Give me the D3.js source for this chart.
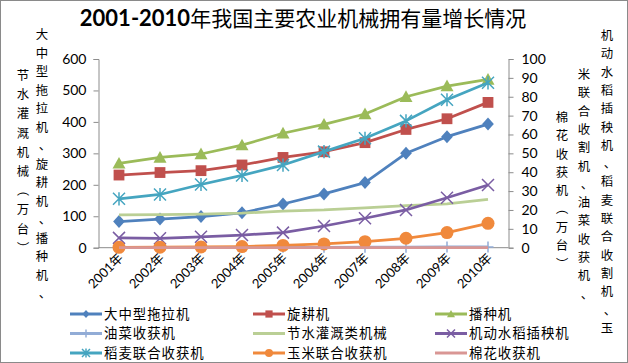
<!DOCTYPE html>
<html>
<head>
<meta charset="utf-8">
<script src="https://cdn.jsdelivr.net/npm/d3@7"></script>
<style>
  body { margin: 0; background: #fff; }
  svg { display: block; }
  text { font-family: "Noto Sans CJK SC", sans-serif; fill: #000; }
  .num { font-family: Lato, "Noto Sans CJK SC", sans-serif; }
</style>
</head>
<body>
<svg id="chart" width="628" height="363"></svg>
<script>
// years on the x axis
var years = ['2001年','2002年','2003年','2004年','2005年','2006年','2007年','2008年','2009年','2010年'];

// left axis series (万台)
var tractor    = [83, 91, 99, 111, 139, 171, 207, 300, 353, 393];
var rotary     = [231, 239, 245, 263, 287, 305, 334, 376, 410, 462];
var seeder     = [268, 287, 298, 326, 364, 392, 425, 480, 514, 535];
var irrigation = [104, 105, 107, 110, 116, 120, 127, 134, 139, 154];

// right axis series (万台)
var rapeseed     = [0.1, 0.1, 0.1, 0.1, 0.2, 0.2, 0.3, 0.3, 0.4, 0.4];
var transplanter = [5.2, 5.0, 5.8, 6.7, 8.0, 11.5, 15.6, 20.0, 26.5, 33.2];
var combine      = [25.9, 28.2, 33.5, 38.3, 43.8, 50.9, 58.0, 67.2, 78.4, 87.4];
var corn         = [0.2, 0.3, 0.4, 0.6, 1.2, 2.0, 3.2, 5.0, 8.0, 12.9];
var cotton       = [0.01, 0.01, 0.01, 0.01, 0.01, 0.02, 0.02, 0.03, 0.03, 0.05];

var leftTicks  = [0, 100, 200, 300, 400, 500, 600];
var rightTicks = [0, 10, 20, 30, 40, 50, 60, 70, 80, 90, 100];

var title = '2001-2010年我国主要农业机械拥有量增长情况';

// series in drawing order (primary axis first, then secondary)
var series = [
    {name: '大中型拖拉机',   values: tractor,      axis: 'L', color: '#4F81BD', marker: 'diamond'},
    {name: '旋耕机',         values: rotary,       axis: 'L', color: '#C0504D', marker: 'square'},
    {name: '播种机',         values: seeder,       axis: 'L', color: '#9BBB59', marker: 'triangle'},
    {name: '节水灌溉类机械', values: irrigation,   axis: 'L', color: '#BACF95', marker: 'none'},
    {name: '油菜收获机',     values: rapeseed,     axis: 'R', color: '#92ACD6', marker: 'plus'},
    {name: '机动水稻插秧机', values: transplanter, axis: 'R', color: '#7A5DA3', marker: 'cross'},
    {name: '稻麦联合收获机', values: combine,      axis: 'R', color: '#45A5C0', marker: 'star'},
    {name: '玉米联合收获机', values: corn,         axis: 'R', color: '#F0893C', marker: 'circle'},
    {name: '棉花收获机',     values: cotton,       axis: 'R', color: '#D99694', marker: 'none'}
];
var legendOrder = ['大中型拖拉机','旋耕机','播种机','油菜收获机','节水灌溉类机械','机动水稻插秧机','稻麦联合收获机','玉米联合收获机','棉花收获机'];

var svg = d3.select('#chart');
var plot = {left: 98.5, right: 508.5, top: 59, bottom: 247.7};
var axisColor = '#8C8C8C';

// frame
svg.append('rect')
    .attr('x', 0.5).attr('y', 0.5)
    .attr('width', 627).attr('height', 362)
    .attr('fill', 'none').attr('stroke', '#8a8a8a');

var x = d3.scaleBand().domain(years).range([plot.left, plot.right]);
var yL = d3.scaleLinear().domain([0, 600]).range([plot.bottom, plot.top]);
var yR = d3.scaleLinear().domain([0, 100]).range([plot.bottom, plot.top]);
function cx(i) { return x(years[i]) + x.bandwidth() / 2; }

// title
var t = svg.append('text')
    .attr('x', 303).attr('y', 26)
    .attr('text-anchor', 'middle');
t.append('tspan').attr('class', 'num')
    .style('font-weight', 'bold').style('font-size', '22px')
    .text(title.slice(0, 9));
t.append('tspan')
    .style('font-size', '21px')
    .text(title.slice(9));

// axes
var leftAxis = d3.axisLeft(yL).tickValues(leftTicks).tickSize(5).tickPadding(7);
var gL = svg.append('g').attr('transform', 'translate(' + plot.left + ',0)').call(leftAxis);
var rightAxis = d3.axisRight(yR).tickValues(rightTicks).tickSize(5).tickPadding(8);
var gR = svg.append('g').attr('transform', 'translate(' + plot.right + ',0)').call(rightAxis);
[gL, gR].forEach(function(g) {
    g.select('.domain').attr('stroke', axisColor);
    g.selectAll('.tick line').attr('stroke', axisColor);
    g.selectAll('.tick text')
        .attr('class', 'num')
        .style('font-size', '14px')
        .attr('fill', '#000');
});

// x axis
svg.append('line')
    .attr('x1', plot.left).attr('x2', plot.right)
    .attr('y1', plot.bottom).attr('y2', plot.bottom)
    .attr('stroke', axisColor);
svg.append('g').selectAll('text')
    .data(years).enter().append('text')
    .attr('class', 'num')
    .attr('text-anchor', 'end')
    .style('font-size', '13px')
    .attr('transform', function(d, i) {
        return 'translate(' + (cx(i) + 5) + ',' + (plot.bottom + 11) + ') rotate(-45)';
    })
    .text(function(d) { return d; });

// markers
function drawMarker(g, type, px, py, color, s) {
    var h = s / 2;
    if (type === 'diamond') {
        g.append('path').attr('d', 'M' + px + ',' + (py - h) + 'L' + (px + h * 0.9) + ',' + py +
            'L' + px + ',' + (py + h) + 'L' + (px - h * 0.9) + ',' + py + 'Z')
            .attr('fill', color);
    } else if (type === 'square') {
        g.append('rect').attr('x', px - h * 0.9).attr('y', py - h * 0.9)
            .attr('width', h * 1.8).attr('height', h * 1.8).attr('fill', color);
    } else if (type === 'triangle') {
        g.append('path').attr('d', 'M' + px + ',' + (py - h) + 'L' + (px + h) + ',' + (py + h * 0.8) +
            'L' + (px - h) + ',' + (py + h * 0.8) + 'Z').attr('fill', color);
    } else if (type === 'circle') {
        g.append('circle').attr('cx', px).attr('cy', py).attr('r', h).attr('fill', color);
    } else if (type === 'plus') {
        g.append('path').attr('d', 'M' + px + ',' + (py - h) + 'V' + (py + h) + 'M' + (px - h) + ',' + py + 'H' + (px + h))
            .attr('stroke', color).attr('stroke-width', 1.5).attr('fill', 'none');
    } else if (type === 'cross' || type === 'star') {
        var d = 'M' + (px - h) + ',' + (py - h) + 'L' + (px + h) + ',' + (py + h) +
            'M' + (px + h) + ',' + (py - h) + 'L' + (px - h) + ',' + (py + h);
        if (type === 'star') d += 'M' + px + ',' + (py - h * 1.1) + 'V' + (py + h * 1.1);
        g.append('path').attr('d', d)
            .attr('stroke', color).attr('stroke-width', 1.5).attr('fill', 'none');
    }
}

var markerSize = {diamond: 13, square: 12, triangle: 13, circle: 13, plus: 11, cross: 12, star: 12};

series.forEach(function(s) {
    var y = s.axis === 'L' ? yL : yR;
    var g = svg.append('g');
    var line = d3.line()
        .x(function(d, i) { return cx(i); })
        .y(function(d) { return y(d); });
    g.append('path')
        .datum(s.values)
        .attr('d', line)
        .attr('fill', 'none')
        .attr('stroke', s.color)
        .attr('stroke-width', 2.75)
        .attr('stroke-linejoin', 'round');
    if (s.marker !== 'none') {
        s.values.forEach(function(v, i) {
            drawMarker(g, s.marker, cx(i), y(v), s.color, markerSize[s.marker]);
        });
    }
});

// legend
var lg = svg.append('g');
var colX = [70, 253, 435];
var rowY = [314, 333.5, 353];
legendOrder.forEach(function(name, k) {
    var s = series.filter(function(d) { return d.name === name; })[0];
    var lx = colX[k % 3], ly = rowY[Math.floor(k / 3)];
    lg.append('line')
        .attr('x1', lx).attr('x2', lx + 32)
        .attr('y1', ly).attr('y2', ly)
        .attr('stroke', s.color).attr('stroke-width', 3);
    if (s.marker !== 'none') drawMarker(lg, s.marker, lx + 16, ly, s.color, 8);
    lg.append('text')
        .attr('x', lx + 34).attr('y', ly)
        .attr('dy', '0.35em')
        .style('font-size', '13.4px')
        .style('letter-spacing', '1px')
        .text(name);
});

// vertical axis titles, one character per row (upright)
var fs = 12.4;
function column(str, colx, firstCenter, step) {
    Array.from(str).forEach(function(c, i) {
        var cy = firstCenter + i * step;
        var g = svg.append('text')
            .attr('x', colx)
            .attr('y', cy)
            .attr('text-anchor', 'middle')
            .attr('dominant-baseline', 'central')
            .style('font-size', fs + 'px');
        if (c === '（' || c === '）') {
            // brackets turned for vertical text
            g.attr('transform', 'rotate(90,' + colx + ',' + cy + ')');
        }
        if (c === '、') g.attr('dx', 3);
        g.text(c);
    });
}
column('大中型拖拉机、旋耕机、播种机、', 42, 34, 18.5);
column('节水灌溉机械（万台）', 23, 75, 19.2);
column('机动水稻插秧机、稻麦联合收割机、玉', 607, 35, 18.3);
column('米联合收割机、油菜收获机、', 584, 74, 18.3);
column('棉花收获机（万台）', 562, 117, 18.3);
</script>
</body>
</html>
